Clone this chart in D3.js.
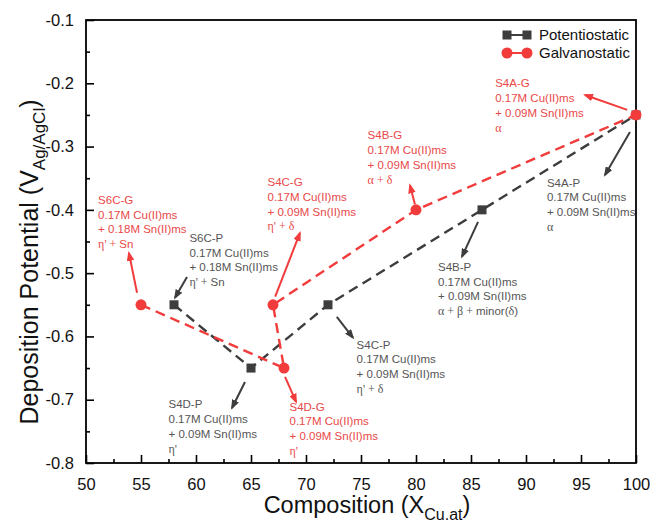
<!DOCTYPE html>
<html>
<head>
<meta charset="utf-8">
<script src="https://cdn.jsdelivr.net/npm/d3@7"></script>
<style>
	body { margin: 0; background: #fff; }
	text { font-family: "Liberation Sans", Arial, sans-serif; }
	.greek { font-family: "Liberation Serif", "DejaVu Serif", serif; }
</style>
</head>
<body>
<svg id="chart"></svg>
<script>
// potentiostatic series (black squares)
const potX = [58, 65, 72, 86, 100];
const potY = [-0.55, -0.65, -0.55, -0.40, -0.25];
// galvanostatic series (red circles)
const galX = [55, 68, 67, 80, 100];
const galY = [-0.55, -0.65, -0.55, -0.40, -0.25];

const xTicks = [50, 55, 60, 65, 70, 75, 80, 85, 90, 95, 100];
const yTicks = [-0.1, -0.2, -0.3, -0.4, -0.5, -0.6, -0.7, -0.8];

// sample labels, bath and phase for each annotation
const noteNames = ['S4A-G', 'S4A-P', 'S4B-G', 'S4B-P', 'S4C-G', 'S4C-P', 'S4D-G', 'S4D-P', 'S6C-G', 'S6C-P'];
const noteSn = ['0.09', '0.09', '0.09', '0.09', '0.09', '0.09', '0.09', '0.09', '0.18', '0.18'];
const notePhase = [
	[['α', 1]],
	[['α', 1]],
	[['α + δ', 1]],
	[['α + β + ', 1], ['minor(', 0], ['δ', 1], [')', 0]],
	[["η' + δ", 1]],
	[["η' + δ", 1]],
	[["η'", 1]],
	[["η'", 1]],
	[["η' + ", 1], ['Sn', 0]],
	[["η' + ", 1], ['Sn', 0]]
];
const noteGalv = [1, 0, 1, 0, 1, 0, 1, 0, 1, 0];
// text anchor (data units) and arrow start / end (data units)
const noteTx = [87.2, 91.9, 75.6, 82.0, 66.5, 74.6, 68.5, 57.5, 51.1, 59.4];
const noteTy = [-0.200, -0.357, -0.282, -0.490, -0.356, -0.613, -0.711, -0.707, -0.384, -0.444];
const arrX1 = [99.2, 99.45, 79.9, 85.64, 67.2, 72.8, 68.1, 64.45, 54.64, 59.18];
const arrY1 = [-0.242, -0.277, -0.391, -0.419, -0.537, -0.569, -0.664, -0.672, -0.531, -0.506];
const arrX2 = [95.36, 97.18, 79.45, 84.18, 69.45, 74.27, 69.1, 63.27, 53.9, 58.09];
const arrY2 = [-0.2185, -0.345, -0.361, -0.474, -0.4365, -0.602, -0.7035, -0.713, -0.468, -0.539];

const w = 654, h = 525;
const leftMargin = 86, rightMargin = 18, topMargin = 20, bottomMargin = 62;
const red = '#f23b3b', redText = '#e94848', black = '#3d3d3d', blackText = '#555555';

const chart = d3.select('#chart').attr('width', w).attr('height', h);

const xScale = d3.scaleLinear().domain([50, 100]).range([leftMargin, w - rightMargin]);
const yScale = d3.scaleLinear().domain([-0.8, -0.1]).range([h - bottomMargin, topMargin]);

const defs = chart.append('defs');
[['head-red', red], ['head-black', black]].forEach(([id, c]) => {
	defs.append('marker')
		.attr('id', id)
		.attr('viewBox', '0 0 10 10')
		.attr('preserveAspectRatio', 'none')
		.attr('refX', 8).attr('refY', 5)
		.attr('markerWidth', 5).attr('markerHeight', 3.8)
		.attr('markerUnits', 'strokeWidth')
		.attr('orient', 'auto')
		.append('path')
		.attr('d', 'M0,0 L10,5 L0,10 Z')
		.attr('fill', c);
});

// AXES (ticks point inward)
const xAxis = d3.axisBottom(xScale).tickValues(xTicks).tickSize(-8).tickPadding(15).tickFormat(d3.format('d'));
const xMinor = d3.axisBottom(xScale).tickValues(d3.range(52.5, 100, 5)).tickSize(-4).tickFormat('');
const yAxis = d3.axisLeft(yScale).tickValues(yTicks).tickSize(-8).tickPadding(12).tickFormat((d) => d.toFixed(1));
const yMinor = d3.axisLeft(yScale).tickValues(d3.range(-0.75, -0.1, 0.1)).tickSize(-4).tickFormat('');

function styleAxis(g) {
	g.select('.domain').remove();
	g.selectAll('line').attr('stroke', '#000').attr('stroke-width', 1.6);
	g.selectAll('text').attr('font-size', 16.5).attr('fill', '#111')
		.attr('font-family', '"Liberation Sans", Arial, sans-serif');
}

chart.append('g').attr('transform', `translate(0, ${h - bottomMargin})`).call(xAxis).call(styleAxis);
chart.append('g').attr('transform', `translate(0, ${h - bottomMargin})`).call(xMinor).call(styleAxis);
chart.append('g').attr('transform', `translate(${leftMargin},0)`).call(yAxis).call(styleAxis);
chart.append('g').attr('transform', `translate(${leftMargin},0)`).call(yMinor).call(styleAxis);

// frame
chart.append('rect')
	.attr('x', leftMargin).attr('y', topMargin)
	.attr('width', w - rightMargin - leftMargin)
	.attr('height', h - bottomMargin - topMargin)
	.attr('fill', 'none').attr('stroke', '#000').attr('stroke-width', 1.8);

// LABELS
const xl = chart.append('text')
	.attr('x', 367).attr('y', 513)
	.attr('text-anchor', 'middle').attr('font-size', 23.5).attr('fill', '#111');
xl.append('tspan').text('Composition (X');
xl.append('tspan').attr('font-size', 16).attr('dy', 7).text('Cu.at');
xl.append('tspan').attr('dy', -7).text(')');

const yl = chart.append('text')
	.attr('transform', 'translate(38, 262) rotate(-90)')
	.attr('text-anchor', 'middle').attr('font-size', 25).attr('fill', '#111');
yl.append('tspan').text('Deposition Potential (V');
yl.append('tspan').attr('font-size', 17).attr('dy', 7).text('Ag/AgCl');
yl.append('tspan').attr('dy', -7).text(')');

// LINES
const line = d3.line().x((d) => xScale(d[0])).y((d) => yScale(d[1]));
const potData = potX.map((x, i) => [x, potY[i]]);
const galData = galX.map((x, i) => [x, galY[i]]);

chart.append('path').datum(potData).attr('d', line)
	.attr('fill', 'none').attr('stroke', black).attr('stroke-width', 2.4).attr('stroke-dasharray', '10,6');
chart.append('path').datum(galData).attr('d', line)
	.attr('fill', 'none').attr('stroke', red).attr('stroke-width', 2.4).attr('stroke-dasharray', '10,6');

// ARROWS + ANNOTATIONS
noteNames.forEach((name, i) => {
	const galv = noteGalv[i];
	chart.append('line')
		.attr('x1', xScale(arrX1[i])).attr('y1', yScale(arrY1[i]))
		.attr('x2', xScale(arrX2[i])).attr('y2', yScale(arrY2[i]))
		.attr('stroke', galv ? red : black).attr('stroke-width', 2)
		.attr('marker-end', galv ? 'url(#head-red)' : 'url(#head-black)');

	const g = chart.append('g')
		.attr('transform', `translate(${xScale(noteTx[i])}, ${yScale(noteTy[i])})`)
		.attr('fill', galv ? redText : blackText)
		.attr('font-size', 11.5);
	const lines = [name, '0.17M Cu(II)ms', `+ ${noteSn[i]}M Sn(II)ms`];
	lines.forEach((t, j) => {
		g.append('text').attr('y', j * 14.8).attr('dy', '0.35em').text(t);
	});
	const ph = g.append('text').attr('y', 3 * 14.8).attr('dy', '0.35em');
	notePhase[i].forEach(([t, serif]) => {
		ph.append('tspan').attr('class', serif ? 'greek' : null)
			.attr('font-size', serif ? 12 : 11.5).text(t);
	});
});

// MARKERS
chart.selectAll('.pot').data(potData).enter().append('rect')
	.attr('class', 'pot')
	.attr('x', (d) => xScale(d[0]) - 4.5).attr('y', (d) => yScale(d[1]) - 4.5)
	.attr('width', 9).attr('height', 9).attr('fill', black);

chart.selectAll('.gal').data(galData).enter().append('circle')
	.attr('class', 'gal')
	.attr('cx', (d) => xScale(d[0])).attr('cy', (d) => yScale(d[1]))
	.attr('r', 5.5).attr('fill', red);

// LEGEND
const legend = chart.append('g').attr('transform', 'translate(507, 35)');
legend.append('line').attr('x1', 0).attr('x2', 20).attr('stroke', black).attr('stroke-width', 2);
[0, 20].forEach((x) => legend.append('rect').attr('x', x - 4.5).attr('y', -4.5).attr('width', 9).attr('height', 9).attr('fill', black));
legend.append('text').attr('x', 32).attr('dy', '0.35em').attr('font-size', 15).attr('fill', '#111').text('Potentiostatic');
legend.append('line').attr('x1', 0).attr('x2', 20).attr('y1', 18).attr('y2', 18).attr('stroke', red).attr('stroke-width', 2);
[0, 20].forEach((x) => legend.append('circle').attr('cx', x).attr('cy', 18).attr('r', 5.5).attr('fill', red));
legend.append('text').attr('x', 32).attr('y', 18).attr('dy', '0.35em').attr('font-size', 15).attr('fill', '#111').text('Galvanostatic');
</script>
</body>
</html>
